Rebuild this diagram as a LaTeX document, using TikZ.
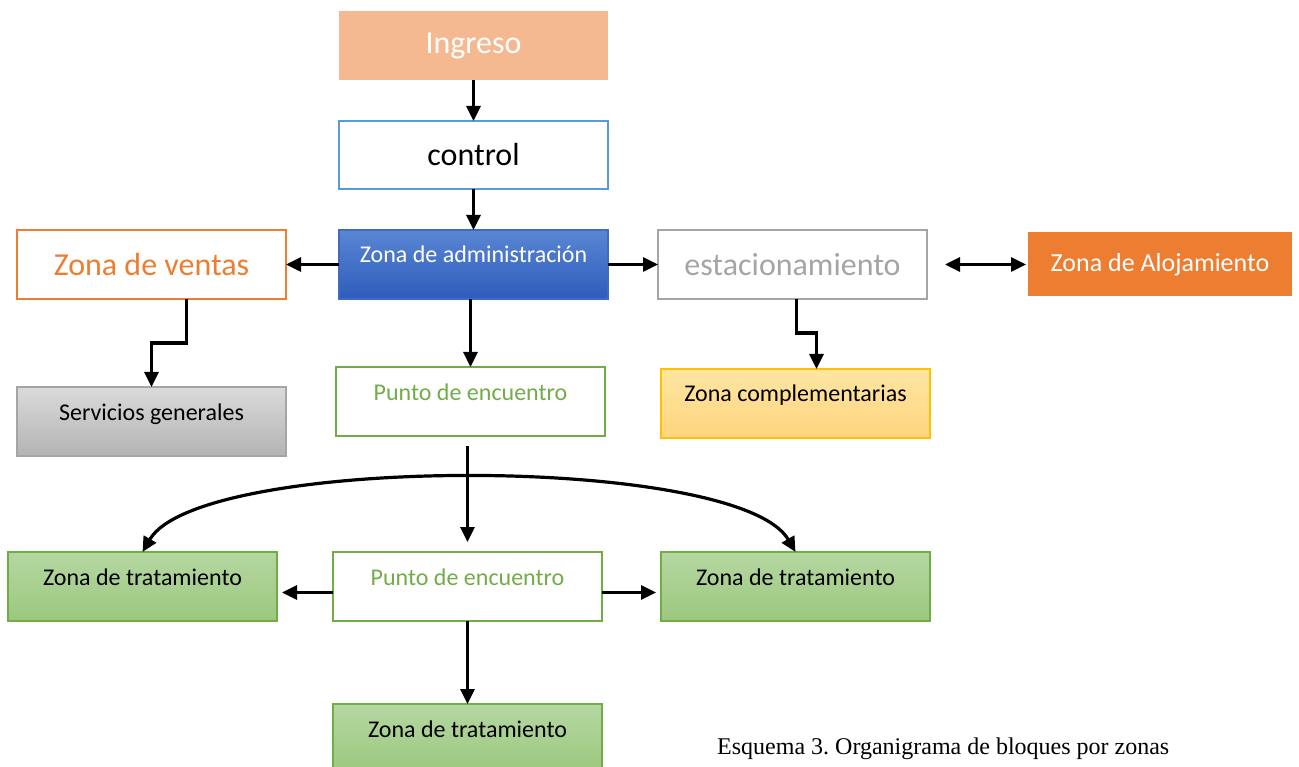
\documentclass[tikz,border=0pt]{standalone}
\usepackage{fontspec}
\setmainfont{Carlito}
\newfontfamily\captionfont{Liberation Serif}
\usetikzlibrary{positioning,arrows.meta}
\frenchspacing
\definecolor{ingfill}{HTML}{F4B991}
\definecolor{ctrlblue}{HTML}{5B9BD5}
\definecolor{admline}{HTML}{3F6CC0}
\definecolor{admtop}{HTML}{5A86D3}
\definecolor{admbot}{HTML}{2D5CBC}
\definecolor{ventorange}{HTML}{ED7D31}
\definecolor{estgray}{HTML}{A5A5A5}
\definecolor{servtop}{HTML}{DADADA}
\definecolor{servbot}{HTML}{B3B3B3}
\definecolor{trgreen}{HTML}{70AD47}
\definecolor{trtop}{HTML}{B5D7A2}
\definecolor{trbot}{HTML}{9BC87D}
\definecolor{compgold}{HTML}{FFC000}
\definecolor{comptop}{HTML}{FFE6A2}
\definecolor{compbot}{HTML}{FFD47E}

\begin{document}
\begin{tikzpicture}[x=1pt,y=-1pt,>={Triangle[length=15pt,width=14pt]},
  box/.style={draw,line width=1.5pt,minimum width=269pt,minimum height=69pt,inner sep=0pt,outer sep=0pt},
  bigtxt/.style={font=\fontsize{32}{38}\selectfont},
  smalltxt/.style={font=\fontsize{24}{29}\selectfont,text height=33pt,text depth=36pt},
  treat/.style={box,draw=trgreen,top color=trtop,bottom color=trbot,smalltxt},
  conn/.style={->,line width=3.2pt}]
\useasboundingbox (0,0) rectangle (1299,767);
\node[box,draw=none,fill=ingfill,text=white,bigtxt] (ing) at (473.5,45.5) {Ingreso};
\node[box,draw=ctrlblue,bigtxt,minimum height=68pt,below=41pt of ing] (ctrl) {control};
\node[box,draw=admline,top color=admtop,bottom color=admbot,text=white,smalltxt,below=41pt of ctrl] (adm) {Zona de administración};
\node[box,draw=ventorange,text=ventorange,bigtxt,left=53pt of adm] (vent) {Zona de ventas};
\node[box,draw=estgray,text=estgray,bigtxt,right=50pt of adm] (est) {estacionamiento};
\node[box,draw=none,fill=ventorange,text=white,font=\fontsize{26}{31}\selectfont,minimum width=264pt,minimum height=64pt,right=101pt of est] (aloj) {Zona de Alojamiento};
\node[box,draw=estgray,top color=servtop,bottom color=servbot,smalltxt,below=88pt of vent] (serv) {Servicios generales};
\node[box,draw=trgreen,text=trgreen,smalltxt,below=68pt of adm,xshift=-3pt] (pe1) {Punto de encuentro};
\node[box,draw=compgold,top color=comptop,bottom color=compbot,smalltxt,below=70pt of est,xshift=3pt] (comp) {Zona complementarias};
\node[box,draw=trgreen,text=trgreen,smalltxt,below=116pt of pe1,xshift=-3pt] (pe2) {Punto de encuentro};
\node[treat,left=56pt of pe2] (trl) {Zona de tratamiento};
\node[treat,right=59pt of pe2] (trr) {Zona de tratamiento};
\node[treat,below=83pt of pe2] (trb) {Zona de tratamiento};
\node[font=\captionfont\fontsize{24}{29}\selectfont,anchor=base west,inner sep=0pt] (cap) at (717,754) {Esquema 3. Organigrama de bloques por zonas};
% connectors
\draw[conn] (ing) -- (ctrl); \draw[conn] (ctrl) -- (adm);
\draw[conn] (adm) -- (vent); \draw[conn] (adm) -- (est);
\draw[conn,<->,shorten <=18pt,shorten >=2pt] (est) -- (aloj);
\draw[conn] ([xshift=35pt]vent.south) -- ++(0,44) -| (serv.north);
\draw[conn] ([xshift=4pt]est.south) -- ++(0,34) -| ([xshift=21pt]comp.north);
\draw[conn] (adm.south -| pe1.north) -- (pe1.north);
\draw[conn,shorten <=10pt,shorten >=10pt] (pe1.south -| pe2.north) -- (pe2.north);
\draw[conn,shorten >=5pt] ([yshift=-6pt]pe2.west) -- ([yshift=-6pt]trl.east);
\draw[conn,shorten >=5pt] ([yshift=-6pt]pe2.east) -- ([yshift=-6pt]trr.west);
\draw[conn] (pe2) -- (trb);
\draw[conn,<->] (trl.north) .. controls +(57,-98) and +(-57,-98) .. (trr.north);
\end{tikzpicture}
\end{document}
